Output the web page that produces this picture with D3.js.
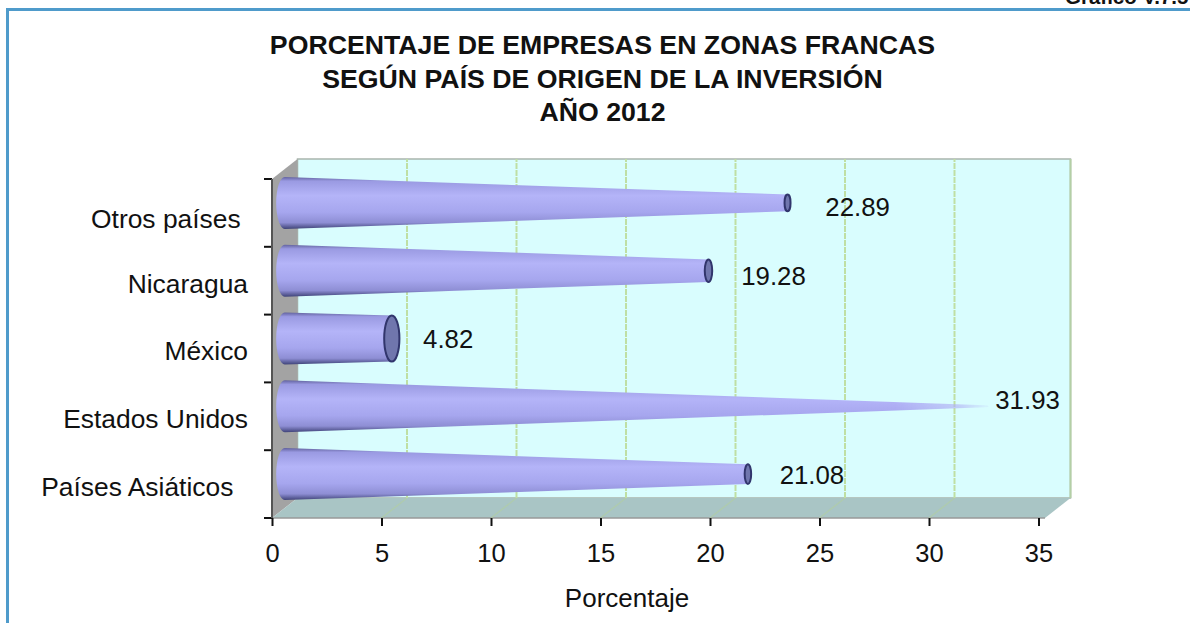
<!DOCTYPE html>
<html><head><meta charset="utf-8">
<script src="https://cdn.jsdelivr.net/npm/d3@7"></script>
<style>
html,body{margin:0;padding:0;background:#fff;overflow:hidden}
text{font-family:"Liberation Sans",Arial,sans-serif;fill:#111}
.cat text{white-space:pre}
</style></head><body><svg id="c" width="1190" height="623"></svg>
<script>
const categories=["Otros países ","Nicaragua","México","Estados Unidos","Países Asiáticos  "];
const values=[22.89,19.28,4.82,31.93,21.08];
const xTicks=[0,5,10,15,20,25,30,35];
const titleLines=["PORCENTAJE DE EMPRESAS EN ZONAS FRANCAS","SEGÚN PAÍS DE ORIGEN DE LA INVERSIÓN","AÑO 2012"];
const xTitle="Porcentaje", corner="Gráfico V.7.5";

// layout
const x=d3.scaleLinear().domain([0,35]).range([272,1038.5]);
const y=d3.scaleBand().domain(categories).range([179,518]);
const depth={x:25.5,y:-20};
const labelNudge=[[52,4],[47,5],[45.5,0],[24,-6],[46,1]];
const floorRight=1045, maxV=d3.max(values), R=26, capK=0.33;

const svg=d3.select("#c");
const defs=svg.append("defs");
const g=defs.append("linearGradient").attr("id","cone").attr("x1",0).attr("x2",0).attr("y1",0).attr("y2",1);
[[0,"#62629f"],[.08,"#9a9ae2"],[.36,"#b4b4f8"],[.68,"#a6a6ee"],[.88,"#8e8ed4"],[1,"#3f4378"]]
 .forEach(s=>g.append("stop").attr("offset",s[0]).attr("stop-color",s[1]));
const f=defs.append("filter").attr("id","soft").attr("x","-5%").attr("y","-5%").attr("width","110%").attr("height","110%");
f.append("feGaussianBlur").attr("stdDeviation",0.7);
const tipEnd=x(maxV)+depth.x/2+1.5;
const fade=defs.append("linearGradient").attr("id","fade").attr("gradientUnits","userSpaceOnUse")
 .attr("x1",tipEnd-90).attr("x2",tipEnd).attr("y1",0).attr("y2",0);
[[0,"#fff"],[.7,"#999"],[1,"#222"]].forEach(s=>fade.append("stop").attr("offset",s[0]).attr("stop-color",s[1]));
defs.append("mask").attr("id","fadeMask").attr("maskUnits","userSpaceOnUse").attr("x",0).attr("y",0).attr("width",1190).attr("height",623)
 .append("rect").attr("width",1190).attr("height",623).attr("fill","url(#fade)");

// frame
svg.append("path").attr("d","M7.5,623V9.5H1190").attr("fill","none").attr("stroke","#4f9bcb").attr("stroke-width",3);
svg.append("text").attr("x",1065).attr("y",4).attr("font-size",20.5).attr("font-weight","bold").text(corner);

// title
svg.append("g").selectAll("text").data(titleLines).join("text")
 .attr("x",602.5).attr("y",(d,i)=>[54,88,121][i]).attr("text-anchor","middle")
 .attr("font-size",26.7).attr("font-weight","bold").text(d=>d);

// 3D walls
const x0=x(0), yT=y.range()[0], yB=y.range()[1];
const plot=svg.append("g");
plot.append("rect").attr("x",x0+depth.x).attr("y",yT+depth.y).attr("width",floorRight-x0)
 .attr("height",yB-yT).attr("fill","#d9fdfe").attr("stroke","#a9b5ad").attr("stroke-width",1.5);
plot.append("path").attr("d",`M${x0},${yT}L${x0+depth.x},${yT+depth.y}V${yB+depth.y}L${x0},${yB}Z`).attr("fill","#a3a3a3");
plot.append("path").attr("d",`M${x0},${yB}L${x0+depth.x},${yB+depth.y}H${floorRight+depth.x}L${floorRight},${yB}Z`).attr("fill","#a9c5c5");
plot.append("path").attr("d",`M${x0},${yB}H${floorRight}`).attr("stroke","#999").attr("stroke-width",1.5);

// gridlines
const gridTicks=xTicks.filter(t=>t>0&&t<35);
plot.selectAll("path.gf").data(gridTicks).join("path").attr("class","gf")
 .attr("d",t=>`M${x(t)},${yB}L${x(t)+depth.x},${yB+depth.y}`)
 .attr("fill","none").attr("stroke","#b2cfa0").attr("stroke-width",1.5).attr("opacity",.6);
plot.selectAll("path.gw").data(gridTicks).join("path").attr("class","gw")
 .attr("d",t=>`M${x(t)+depth.x},${yB+depth.y}V${yT+depth.y}`)
 .attr("fill","none").attr("stroke","#bfdfa4").attr("stroke-width",2).attr("stroke-dasharray","6 1");
plot.append("path").attr("d",`M${floorRight+depth.x},${yT+depth.y}V${yB+depth.y}`).attr("stroke","#b4cfa6").attr("stroke-width",2);

// cones
const cones=svg.append("g").attr("filter","url(#soft)");
categories.forEach((c,i)=>{
 const v=values[i], cy=y(c)+y.bandwidth()/2+depth.y/2;
 const xs=x(0)+depth.x/2, xe=x(v)+depth.x/2+1.5;
 const r1=R*(1-v/maxV)+1, rx0=R*capK, rx1=Math.max(r1*capK,3);
 const p=cones.append("path")
  .attr("d",`M${xs},${cy-R}L${xe},${cy-r1}A${rx1},${r1} 0 0 1 ${xe},${cy+r1}L${xs},${cy+R}A${rx0},${R} 0 0 1 ${xs},${cy-R}Z`)
  .attr("fill","url(#cone)");
 if(v<maxV){
  cones.append("ellipse").attr("cx",xe).attr("cy",cy).attr("rx",rx1).attr("ry",r1)
   .attr("fill","#6f76ad").attr("stroke","#30356c").attr("stroke-width",2);
 } else {
  p.attr("mask","url(#fadeMask)");
 }
 svg.append("text").attr("x",x(v)+labelNudge[i][0]).attr("y",cy+labelNudge[i][1]).attr("dy","0.35em")
  .attr("font-size",25.8).text(v.toFixed(2));
});

// axes
const ax=svg.append("g").attr("transform",`translate(0,${yB})`)
 .call(d3.axisBottom(x).tickValues(xTicks).tickSize(8).tickPadding(18).tickFormat(d3.format("d")));
ax.select(".domain").remove();
ax.selectAll("line").attr("stroke","#111").attr("stroke-width",2);
ax.selectAll("text").attr("font-size",25.5).attr("font-family",null);
const ay=svg.append("g").attr("class","cat").attr("transform",`translate(${x0},0)`)
 .call(d3.axisLeft(y).tickSize(0).tickPadding(24));
ay.select(".domain").remove();
ay.selectAll("text").attr("font-size",26.4).attr("font-family",null).attr("dy",(d,i)=>i===0?"0.56em":"0.45em");
const tickYs=[y.range()[0],...categories.map(c=>y(c)+y.bandwidth())];
svg.append("g").selectAll("line").data(tickYs).join("line")
 .attr("x1",x0-8).attr("x2",x0).attr("y1",d=>d).attr("y2",d=>d).attr("stroke","#111").attr("stroke-width",2);
svg.append("line").attr("x1",x0).attr("x2",x0).attr("y1",yT).attr("y2",yB).attr("stroke","#555").attr("stroke-width",2);

svg.append("text").attr("x",627).attr("y",607).attr("text-anchor","middle").attr("font-size",26).text(xTitle);
</script></body></html>
